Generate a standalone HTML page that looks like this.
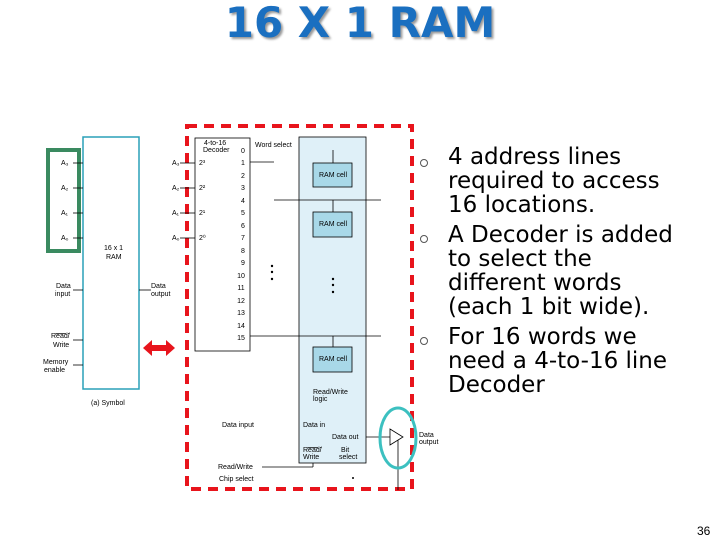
<!DOCTYPE html>
<html><head><style>
body{margin:0;width:720px;height:540px;background:#fff;overflow:hidden;position:relative;font-family:"Liberation Sans",sans-serif}
.t{position:absolute;left:0;width:720px;top:-2px;text-align:center;font:bold 42px "DejaVu Sans","Liberation Sans",sans-serif;color:#1a6fc0;text-shadow:2px 2px 2px #999}
.b{position:absolute;left:448px;top:145px;font:23px "DejaVu Sans",sans-serif;line-height:24px;color:#000;white-space:nowrap}
.b p{margin:0 0 6px 0}
</style></head><body>
<div class="t">16 X 1 RAM</div>
<svg width="720" height="540" style="position:absolute;left:0;top:0" font-family="Liberation Sans,sans-serif" font-size="7" fill="#000">
<rect x="83" y="137" width="56" height="252" fill="#fff" stroke="#2aa0b8" stroke-width="1.5"/>
<rect x="48" y="150" width="31" height="101" fill="none" stroke="#3a8a60" stroke-width="4"/>
<g stroke="#000" stroke-width="0.8">
<line x1="73" y1="163" x2="83" y2="163"/><line x1="73" y1="188" x2="83" y2="188"/><line x1="73" y1="213" x2="83" y2="213"/><line x1="73" y1="238" x2="83" y2="238"/>
<line x1="73" y1="290" x2="83" y2="290"/><line x1="139" y1="290" x2="151" y2="290"/>
<line x1="73" y1="340" x2="83" y2="340"/><line x1="73" y1="365" x2="83" y2="365"/>
</g>
<text x="61" y="165">A₃</text><text x="61" y="190">A₂</text><text x="61" y="215">A₁</text><text x="61" y="240">A₀</text>
<text x="104" y="250">16 x 1</text><text x="106" y="259">RAM</text>
<text x="56" y="288">Data</text><text x="55" y="296">input</text>
<text x="151" y="288">Data</text><text x="151" y="296">output</text>
<text x="51" y="338" text-decoration="overline">Read/</text><text x="53" y="347">Write</text>
<text x="43" y="364">Memory</text><text x="44" y="372">enable</text>
<text x="91" y="405">(a) Symbol</text>
<polygon points="143,348 152,340 152,345 166,345 166,340 175,348 166,356 166,351 152,351 152,356" fill="#e8141c"/>
<rect x="187" y="126" width="225" height="363" fill="none" stroke="#e8141c" stroke-width="4" stroke-dasharray="10,7"/>
<rect x="195" y="138" width="55" height="213" fill="#fff" stroke="#000" stroke-width="0.8"/>
<text x="204" y="145">4-to-16</text><text x="203" y="152">Decoder</text>
<g stroke="#000" stroke-width="0.8"><line x1="180" y1="163" x2="195" y2="163"/><line x1="180" y1="188" x2="195" y2="188"/><line x1="180" y1="213" x2="195" y2="213"/><line x1="180" y1="238" x2="195" y2="238"/></g>
<text x="172" y="165">A₃</text><text x="172" y="190">A₂</text><text x="172" y="215">A₁</text><text x="172" y="240">A₀</text>
<text x="199" y="165">2³</text><text x="199" y="190">2²</text><text x="199" y="215">2¹</text><text x="199" y="240">2⁰</text>
<g text-anchor="middle">
<text x="243" y="153">0</text><text x="243" y="165">1</text><text x="243" y="178">2</text><text x="243" y="190">3</text><text x="243" y="203">4</text><text x="243" y="215">5</text><text x="243" y="228">6</text><text x="243" y="240">7</text><text x="243" y="253">8</text><text x="243" y="265">9</text><text x="241" y="278">10</text><text x="241" y="290">11</text><text x="241" y="303">12</text><text x="241" y="315">13</text><text x="241" y="328">14</text><text x="241" y="340">15</text>
</g>
<text x="255" y="147">Word select</text>
<rect x="299" y="137" width="67" height="326" fill="#dff0f8" stroke="#000" stroke-width="0.8"/>
<g stroke="#000" stroke-width="0.8">
<line x1="250" y1="162" x2="274" y2="162"/><line x1="274" y1="200" x2="381" y2="200"/><line x1="250" y1="336" x2="381" y2="336"/>
<line x1="333" y1="150" x2="333" y2="163"/><line x1="333" y1="200" x2="333" y2="212"/><line x1="333" y1="336" x2="333" y2="347"/>
<line x1="366" y1="437" x2="390" y2="437"/><line x1="398" y1="440" x2="398" y2="490"/>
<line x1="262" y1="467" x2="313" y2="467"/><line x1="313" y1="467" x2="313" y2="463"/>
</g>
<g fill="#a8d8e8" stroke="#000" stroke-width="0.8">
<rect x="313" y="163" width="39" height="24"/><rect x="313" y="212" width="39" height="25"/><rect x="313" y="347" width="39" height="25"/>
</g>
<text x="319" y="177">RAM cell</text><text x="319" y="226">RAM cell</text><text x="319" y="361">RAM cell</text>
<g fill="#000"><circle cx="272" cy="266" r="1.2"/><circle cx="272" cy="272" r="1.2"/><circle cx="272" cy="279" r="1.2"/><circle cx="333" cy="279" r="1.2"/><circle cx="333" cy="285" r="1.2"/><circle cx="333" cy="292" r="1.2"/><circle cx="353" cy="478" r="1"/></g>
<text x="313" y="394">Read/Write</text><text x="313" y="401">logic</text>
<text x="222" y="427">Data input</text><text x="303" y="427">Data in</text><text x="332" y="439">Data out</text>
<text x="303" y="452" text-decoration="overline">Read/</text><text x="303" y="459">Write</text>
<text x="341" y="452">Bit</text><text x="339" y="459">select</text>
<text x="218" y="469">Read/Write</text><text x="219" y="481">Chip select</text>
<polygon points="390,429 403,437 390,445" fill="#fff" stroke="#000" stroke-width="0.8"/>
<ellipse cx="398" cy="438" rx="18" ry="30" fill="none" stroke="#3cc0c0" stroke-width="3"/>
<text x="419" y="437">Data</text><text x="419" y="444">output</text>
<g fill="none" stroke="#555" stroke-width="1"><circle cx="424" cy="163" r="3.5"/><circle cx="424" cy="239" r="3.5"/><circle cx="424" cy="341" r="3.5"/></g>
<text x="697" y="535" font-size="12">36</text>
</svg>
<div class="b"><p>4 address lines<br>required to access<br>16 locations.</p><p>A Decoder is added<br>to select the<br>different words<br>(each 1 bit wide).</p><p>For 16 words we<br>need a 4-to-16 line<br>Decoder</p></div>
</body></html>
